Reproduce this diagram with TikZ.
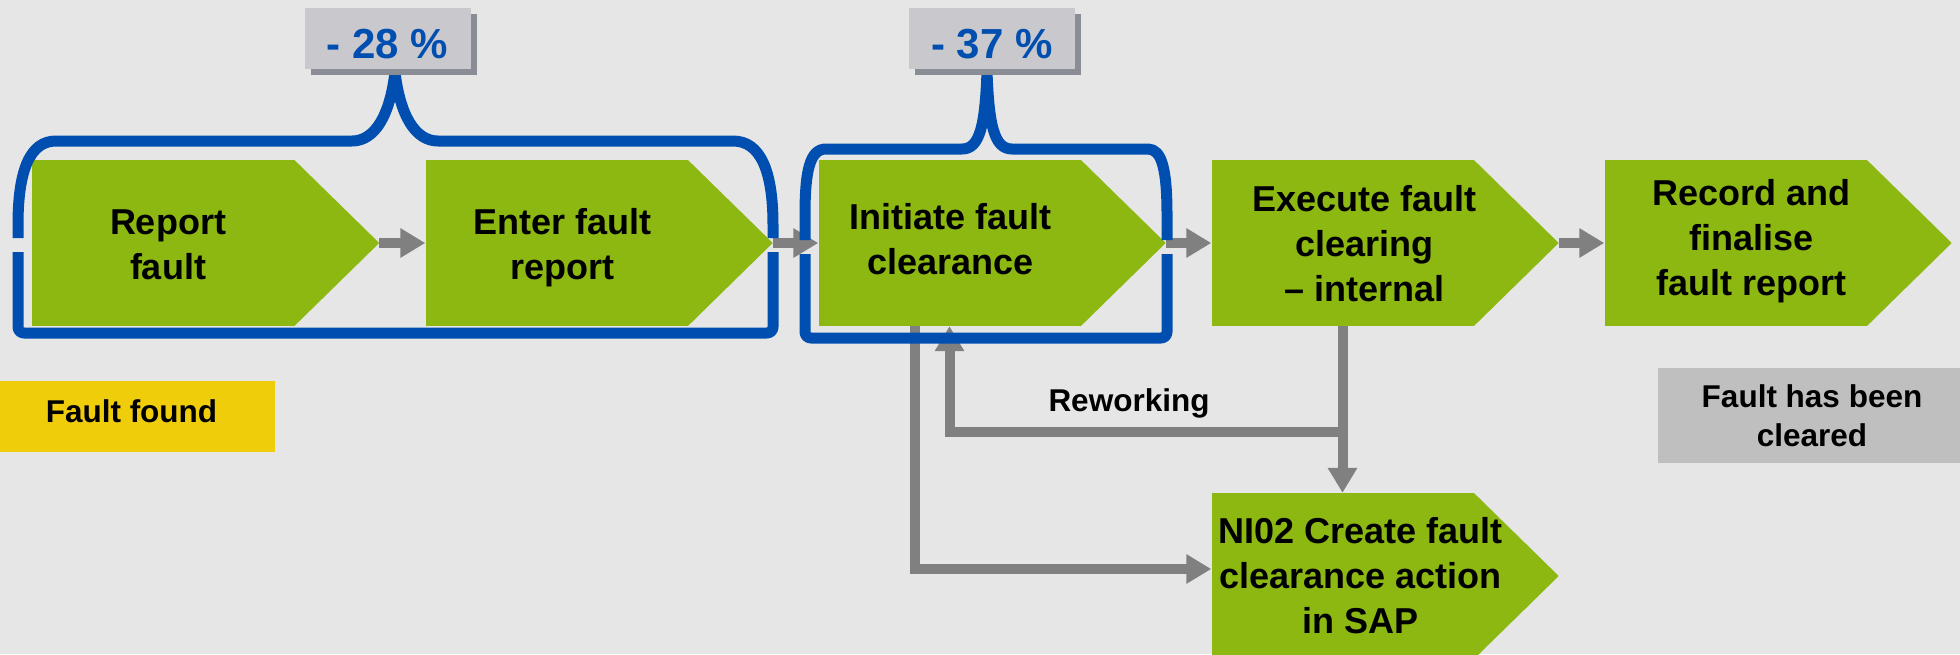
\documentclass[tikz,border=0pt]{standalone}
\usepackage{fontspec}
\setmainfont{Liberation Sans}
\usetikzlibrary{arrows.meta,calc,shadows}

\definecolor{bg}{HTML}{E6E6E6}
\definecolor{stepgreen}{HTML}{8CB811}
\definecolor{bracketblue}{HTML}{004EAF}
\definecolor{flowgray}{HTML}{808080}
\definecolor{tagfill}{HTML}{C8C8CD}
\definecolor{tagshadow}{HTML}{8A8D96}
\definecolor{startyellow}{HTML}{F0CD0A}
\definecolor{endgray}{HTML}{BFBFBF}

\pgfdeclarelayer{background}
\pgfsetlayers{background,main}

% step caption: horizontal shift (twice the offset), vertical offset, lines;
% the caption takes no room, so the step keeps its size
\newcommand{\stepcaption}[3]{\raisebox{\dimexpr #2pt-9pt\relax}[0pt][0pt]{\makebox[0pt]{\hspace*{#1pt}\begin{tabular}{@{}c@{}}#3\end{tabular}}}}

\tikzset{
  stepbox/.style={rectangle, fill=stepgreen, minimum width=262pt, minimum height=166pt,
    inner sep=0pt, font=\fontsize{36}{45}\selectfont\bfseries},
  flow/.style={draw=flowgray, line width=10pt, -{Triangle[length=25pt,width=28pt]}},
  bracket/.style={draw=bracketblue, line width=11pt, line join=round},
  tag/.style={rectangle, fill=tagfill, minimum width=166pt, minimum height=61pt, inner sep=0pt,
    text=bracketblue, font=\fontsize{42}{50}\selectfont\bfseries,
    drop shadow={shadow xshift=6pt, shadow yshift=-6pt, fill=tagshadow, opacity=1}},
  statebox/.style={rectangle, inner sep=0pt, align=center,
    font=\fontsize{31.5}{39}\selectfont\bfseries},
  note/.style={inner sep=0pt, font=\fontsize{31.5}{39}\selectfont\bfseries}
}

\begin{document}
\begin{tikzpicture}[x=1pt,y=-1pt]
\useasboundingbox (0,0) rectangle (1960,654);
\begin{pgfonlayer}{background}
  \fill[bg] (0,0) rectangle (1960,654);
\end{pgfonlayer}

% process steps
\node[stepbox] (s1) at (163,243)    {\stepcaption{10}{-2}{Report\\fault}};
\node[stepbox] (s2) at (556.5,243)  {\stepcaption{12}{-2}{Enter fault\\report}};
\node[stepbox] (s3) at (949.5,243)  {\stepcaption{2}{3}{Initiate fault\\clearance}};
\node[stepbox] (s4) at (1342.5,243) {\stepcaption{44}{-2}{Execute fault\\clearing\\– internal}};
\node[stepbox] (s5) at (1735.5,243) {\stepcaption{32}{4}{Record and\\finalise\\fault report}};
\node[stepbox] (s6) at (1342.5,576) {\stepcaption{36}{-1}{NI02 Create fault\\clearance action\\in SAP}};

% pointed ends of the steps, kept behind the captions
\begin{pgfonlayer}{background}
\foreach \s in {s1,s2,s3,s4,s5,s6}
  \fill[stepgreen] (\s.north east) -- ([xshift=85pt]\s.east) coordinate (\s-tip) -- (\s.south east) -- cycle;
\end{pgfonlayer}

% start and end states
\node[statebox, fill=startyellow, minimum width=275pt, minimum height=71pt] (found) at (137.5,416.5)
  {\raisebox{-5.5pt}[0pt][0pt]{\makebox[0pt]{\hspace*{-12pt}Fault found}}};
\node[statebox, fill=endgray, minimum width=308pt, minimum height=95pt] (cleared) at (1812,415.5) {Fault has been\\cleared};

% main flow
\draw[flow] (s1-tip) -- (s2.west);
\draw[flow] (s2-tip) -- (s3.west);
\draw[flow] (s3-tip) -- (s4.west);
\draw[flow] (s4-tip) -- (s5.west);

% branches
\draw[flow] ([xshift=-34.5pt]s3.south) |- ([yshift=7pt]s6.west);
\draw[flow] (s4.south) -- (s6.north);
\path (s4.south) -- (s6.north) coordinate[pos=0.635] (rw);
\draw[flow] ([xshift=4.5pt]rw) -| (s3.south);
\node[note] (rwlabel) at (1129,403) {Reworking};

% brackets over the improved steps
\draw[bracket] (18,238) -- (18,225) .. controls (18,170) and (30,141) .. (56,141)
  -- (352,141) .. controls (375,141) and (390,115) .. (395,72)
  .. controls (400,115) and (415,141) .. (438,141)
  -- (733,141) .. controls (760,141) and (773,170) .. (773,225) -- (773,238);
\draw[bracket, rounded corners=6pt] (18,252) -- (18,333) -- (773,333) -- (773,252);

\draw[bracket] (805,240) -- (805,215) .. controls (805,170) and (810,149) .. (826,149)
  -- (962,149) .. controls (980,149) and (985,125) .. (987,72)
  .. controls (989,125) and (994,149) .. (1012,149)
  -- (1148,149) .. controls (1162,149) and (1167,170) .. (1167,215) -- (1167,240);
\draw[bracket, rounded corners=6pt] (805,254) -- (805,338) -- (1167,338) -- (1167,254);

% savings tags
\node[tag] (tag1) at (387.5,38.5) {\raisebox{-20pt}[0pt][0pt]{\makebox[0pt]{- 28 \%}}};
\node[tag] (tag2) at (992,38.5) {\raisebox{-20pt}[0pt][0pt]{\makebox[0pt]{- 37 \%}}};
\end{tikzpicture}
\end{document}
